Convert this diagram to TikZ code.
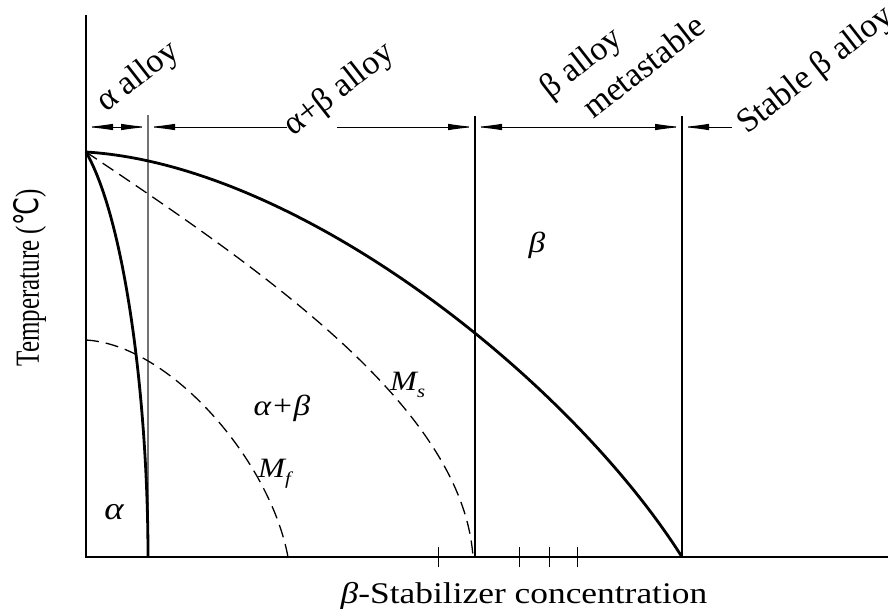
\documentclass[tikz,border=0pt]{standalone}
\usepackage{fontspec}
\usepackage{graphicx}
\setmainfont{Liberation Serif}
\newfontfamily\symfont{DejaVu Sans}
\usetikzlibrary{arrows.meta}
\begin{document}
\begin{tikzpicture}[x=1pt,y=-1pt,
  axisline/.style={line width=1.3pt},
  extgray/.style={line width=1.2pt, black!55},
  extline/.style={line width=1.6pt},
  phaseline/.style={line width=2.8pt},
  mline/.style={line width=1.3pt, dash pattern=on 13pt off 7pt},
  tick/.style={line width=1pt},
  tip/.tip={Latex[length=27pt,width=6.5pt]},
  dimboth/.style={line width=1pt, tip-tip},
  dimstart/.style={line width=1pt, tip-},
  dimend/.style={line width=1pt, -tip},
  toplabel/.style={anchor=base west, rotate=38, inner sep=0pt, font=\fontsize{34}{38}\selectfont},
  region/.style={inner sep=0pt, xscale=1.15, font=\fontsize{29}{34}\selectfont\itshape},
]
\useasboundingbox (0,0) rectangle (888,608);
\fill[white] (0,0) rectangle (888,608);

% key points
\coordinate (Ytop) at (86,15);
\coordinate (O) at (86,557);
\coordinate (Xend) at (888,557);
\coordinate (T0) at (86,152);
\coordinate (Mf0) at (86,340);
\coordinate (E1t) at (148,115);
\coordinate (E1b) at (148,557);
\coordinate (E2t) at (475,116);
\coordinate (E2b) at (475,557);
\coordinate (E3t) at (682,116);
\coordinate (E3b) at (682,557);
\coordinate (MsEnd) at (473,557);
\coordinate (MfEnd) at (288,557);
\coordinate (D0) at (86,127);
\coordinate (D1) at (148,127);
\coordinate (G1) at (287,127);
\coordinate (G2) at (337,127);
\coordinate (D2) at (475,127);
\coordinate (D3) at (682,127);
\coordinate (D4) at (732,127);

% axes
\draw[axisline] (Ytop) -- (O) -- (Xend);
\foreach \tx [count=\i] in {438,519,549,577} {
  \coordinate (tk\i a) at (\tx,547);
  \coordinate (tk\i b) at (\tx,567);
  \draw[tick] (tk\i a) -- (tk\i b);
}

% extension lines
\draw[extgray] (E1t) -- (E1b);
\draw[extline] (E2t) -- (E2b);
\draw[extline] (E3t) -- (E3b);

% dimension line
\draw[dimboth] (D0) -- (D1);
\draw[dimstart] (D1) -- (G1);
\draw[dimend] (G2) -- (D2);
\draw[dimboth] (D2) -- (D3);
\draw[dimstart] (D3) -- (D4);

% phase boundaries
\draw[phaseline] (T0) .. controls (300,165) and (570,380) .. (E3b);
\draw[phaseline] (T0) .. controls (125,220) and (148,400) .. (E1b);
\draw[mline] (T0) .. controls (270,275) and (463,410) .. (MsEnd);
\draw[mline] (Mf0) .. controls (170,345) and (270,460) .. (MfEnd);

% top labels
\node[toplabel] (la) at (106,113) {α alloy};
\node[toplabel] (lab) at (293,137) {α+β alloy};
\node[toplabel] (lb) at (550,100) {β alloy};
\node[toplabel] (lm) at (593,120) {metastable};
\node[toplabel] (ls) at (747,135) {Stable β alloy};

% region labels
\node[region] (rb) at (537,245) {β};
\node[region] (rab) at (282,408) {α+β};
\node[region, font=\fontsize{32}{36}\selectfont\itshape] (ra) at (114,512) {α};
\node[region, anchor=base west, font=\fontsize{28}{32}\selectfont\itshape] (ms) at (390,390) {M\raisebox{-0.25em}{\fontsize{18}{20}\selectfont s}};
\node[region, anchor=base west, font=\fontsize{28}{32}\selectfont\itshape] (mf) at (258,477) {M\raisebox{-0.25em}{\fontsize{18}{20}\selectfont f}};

% axis labels
\node[inner sep=0pt, rotate=90, font=\fontsize{25}{30}\selectfont] (ylab) at (30,278)
  {\scalebox{1}[1.35]{Temperature ({\symfont ℃})}};
\node[inner sep=0pt, anchor=base, xscale=1.18, font=\fontsize{30}{34}\selectfont] (xlab) at (524,603)
  {\textit{β}-Stabilizer concentration};
\end{tikzpicture}
\end{document}
